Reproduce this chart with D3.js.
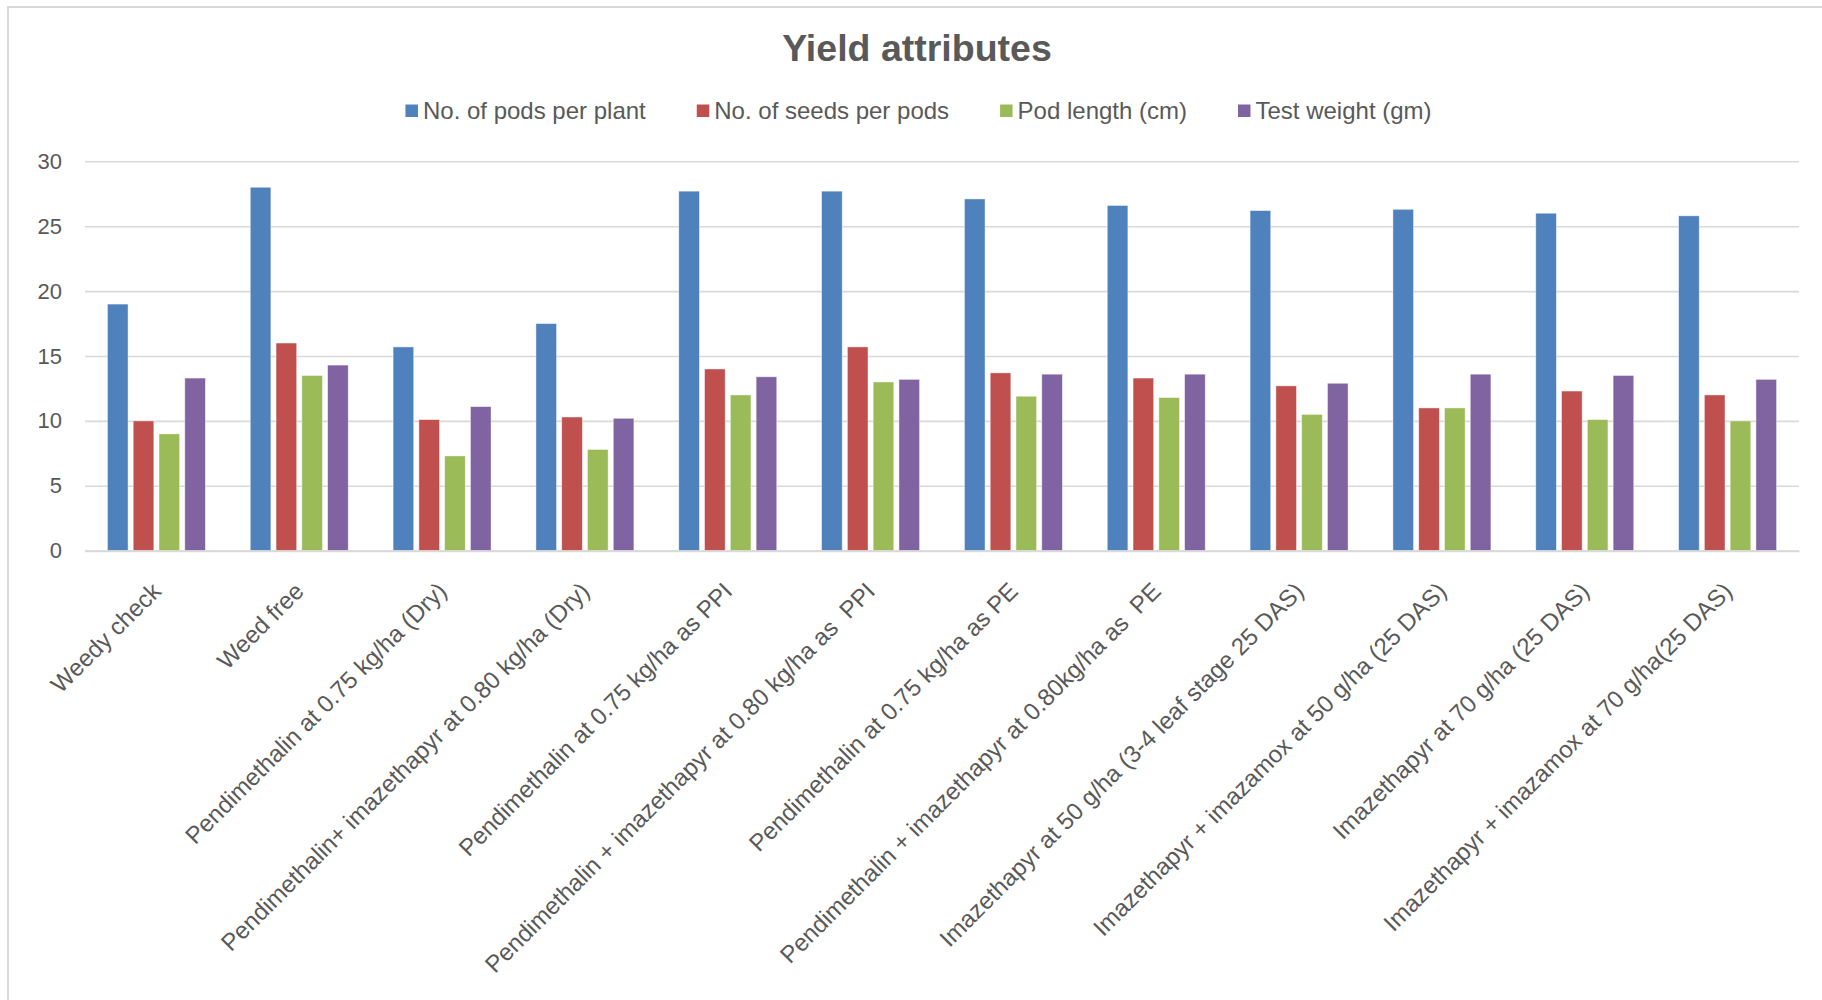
<!DOCTYPE html>
<html>
<head>
<meta charset="utf-8">
<script src="https://cdn.jsdelivr.net/npm/d3@7"></script>
<style>
  html, body { margin: 0; padding: 0; background: #ffffff; }
  svg { display: block; }
  text { font-family: "Liberation Sans", Arial, sans-serif; fill: #595959; white-space: pre; }
</style>
</head>
<body>
<svg id="chart" width="1822" height="1000"></svg>
<script>
// ---------- data ----------
const categories = [
  "Weedy check",
  "Weed free",
  "Pendimethalin at 0.75 kg/ha (Dry)",
  "Pendimethalin+ imazethapyr at 0.80 kg/ha (Dry)",
  "Pendimethalin at 0.75 kg/ha as PPI",
  "Pendimethalin + imazethapyr at 0.80 kg/ha as  PPI",
  "Pendimethalin at 0.75 kg/ha as PE",
  "Pendimethalin + imazethapyr at 0.80kg/ha as  PE",
  "Imazethapyr at 50 g/ha (3-4 leaf stage 25 DAS)",
  "Imazethapyr + imazamox at 50 g/ha (25 DAS)",
  "Imazethapyr at 70 g/ha (25 DAS)",
  "Imazethapyr + imazamox at 70 g/ha(25 DAS)"
];
const seriesNames = ["No. of pods per plant", "No. of seeds per pods", "Pod length (cm)", "Test weight (gm)"];
const podsPerPlant = [19.0, 28.0, 15.7, 17.5, 27.7, 27.7, 27.1, 26.6, 26.2, 26.3, 26.0, 25.8];
const seedsPerPod  = [10.0, 16.0, 10.1, 10.3, 14.0, 15.7, 13.7, 13.3, 12.7, 11.0, 12.3, 12.0];
const podLength    = [9.0, 13.5, 7.3, 7.8, 12.0, 13.0, 11.9, 11.8, 10.5, 11.0, 10.1, 10.0];
const testWeight   = [13.3, 14.3, 11.1, 10.2, 13.4, 13.2, 13.6, 13.6, 12.9, 13.6, 13.5, 13.2];
const yTicks = [0, 5, 10, 15, 20, 25, 30];
const titleText = "Yield attributes";

// ---------- layout ----------
const colors = ["#4F81BD", "#C0504D", "#9BBB59", "#8064A2"];
const seriesValues = [podsPerPlant, seedsPerPod, podLength, testWeight];
const plot = { left: 85, right: 1799, top: 161.3, bottom: 550.7 };

const svg = d3.select("#chart");

// chart frame
svg.append("rect")
  .attr("x", 8).attr("y", 7)
  .attr("width", 1840).attr("height", 1010)
  .attr("fill", "#ffffff")
  .attr("stroke", "#d9d9d9").attr("stroke-width", 2);

const x0 = d3.scaleBand().domain(categories).range([plot.left, plot.right]).padding(0);
const bw = x0.bandwidth();
const x1 = d3.scaleBand().domain(seriesNames).range([bw * 0.157, bw * 0.843]).paddingInner(0.2).paddingOuter(0);
const y = d3.scaleLinear().domain([0, 30]).range([plot.bottom, plot.top]);

// gridlines + y labels
const yAxis = d3.axisLeft(y).tickValues(yTicks).tickSize(-(plot.right - plot.left)).tickPadding(23);
const gy = svg.append("g").attr("transform", `translate(${plot.left},0)`).call(yAxis);
gy.select(".domain").remove();
gy.selectAll(".tick line").attr("stroke", "#d9d9d9").attr("stroke-width", 1.6);
gy.selectAll(".tick text")
  .attr("font-size", 22)
  .attr("fill", "#595959")
  .style("font-family", "'Liberation Sans', Arial, sans-serif");

// bars
const rows = categories.map((c, i) => ({ cat: c, vals: seriesNames.map((s, j) => ({ s, j, v: seriesValues[j][i] })) }));
const groups = svg.append("g").selectAll("g").data(rows).join("g")
  .attr("transform", d => `translate(${x0(d.cat)},0)`);
groups.selectAll("rect").data(d => d.vals).join("rect")
  .attr("x", d => x1(d.s))
  .attr("width", x1.bandwidth())
  .attr("y", d => y(d.v))
  .attr("height", d => y(0) - y(d.v))
  .attr("fill", d => colors[d.j])
  .attr("stroke", "rgba(255,255,255,0.55)")
  .attr("stroke-width", 0.8);

// x axis line
const xAxis = d3.axisBottom(x0).tickSize(0).tickFormat("");
const gx = svg.append("g").attr("transform", `translate(0,${y(0)})`).call(xAxis);
gx.select(".domain").attr("stroke", "#d9d9d9").attr("stroke-width", 2);

// category labels
svg.append("g").selectAll("text").data(categories).join("text")
  .attr("transform", d => `translate(${x0(d) + bw / 2 + 6},${y(0) + 42}) rotate(-45)`)
  .attr("text-anchor", "end")
  .attr("font-size", 24)
  .text(d => d);

// title
svg.append("text")
  .attr("x", 917).attr("y", 61)
  .attr("text-anchor", "middle")
  .attr("font-size", 37.5)
  .attr("font-weight", "bold")
  .text(titleText);

// legend
const legend = svg.append("g");
let cursor = 0;
seriesNames.forEach((name, i) => {
  const g = legend.append("g").attr("transform", `translate(${cursor},0)`);
  g.append("rect").attr("x", 0).attr("y", -6.5).attr("width", 12.5).attr("height", 12.5).attr("fill", colors[i]);
  const t = g.append("text").attr("x", 17.5).attr("y", 0).attr("dy", "0.35em")
    .attr("font-size", 24).text(name);
  cursor += 17.5 + t.node().getComputedTextLength() + 51;
});
const legendWidth = cursor - 51;
legend.attr("transform", `translate(${918.5 - legendWidth / 2},111)`);
</script>
</body>
</html>
